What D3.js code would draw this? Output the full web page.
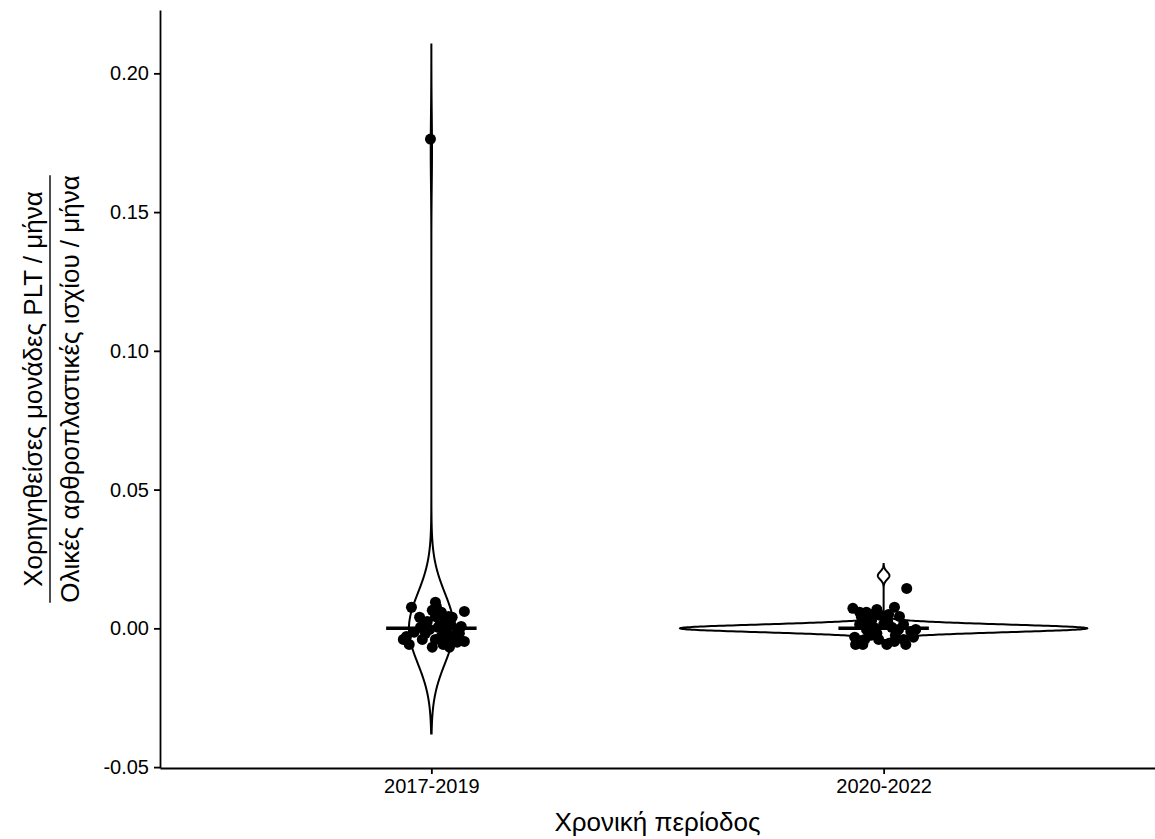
<!DOCTYPE html>
<html lang="el">
<head>
<meta charset="UTF-8">
<title>Violin</title>
<script src="https://d3js.org/d3.v7.min.js"></script>
<style>
  body { margin: 0; background: #fff; }
  svg text { font-family: Arial, "Liberation Sans", Helvetica, sans-serif; fill: #000; }
  .tick text { font-size: 20px; }
  .axis-title { font-size: 26px; }
</style>
</head>
<body>
<svg width="1155" height="839"></svg>
<script>
const groups = ["2017-2019", "2020-2022"];

// monthly ratio per group (most months are zero)
const values1 = [0, 0, 0, 0, 0, 0, 0, 0, 0, 0, 0, 0, 0, 0, 0, 0, 0, 0,
                 0, 0, 0, 0, 0, 0, 0, 0, 0, 0, 0, 0, 0, 0, 0, 0, 0, 0.1725];
const values2 = [0, 0, 0, 0, 0, 0, 0, 0, 0, 0, 0, 0, 0, 0, 0, 0, 0, 0,
                 0, 0, 0, 0, 0, 0, 0, 0, 0, 0, 0, 0, 0, 0, 0, 0, 0, 0.019];

// jittered points as drawn: offset from group centre (category units) and y
const dx1 = [-0.044, -0.026, 0.002, 0.011, 0.009, 0.022, 0.038, 0.073, -0.024, -0.062, -0.049, -0.020,
             0.002, 0.022, 0.033, 0.040, 0.057, 0.073, 0.044, 0.066, -0.004, 0.029, -0.009, 0.018,
             0.051, 0.062, 0.009, -0.055, -0.013, 0.035, 0.015, -0.038, 0.046, 0.009, -0.002, 0.026];
const y1 = [0.0076, 0.0040, 0.0065, 0.0079, 0.0043, 0.0058, 0.0043, 0.0061, 0.0004, -0.0040, -0.0058, -0.0040,
            -0.0068, -0.0029, -0.0011, -0.0068, -0.0050, -0.0047, 0.0011, 0.0007, -0.0004, 0.0018, 0.0025, 0.0032,
            -0.0025, -0.0018, -0.0040, -0.0029, -0.0018, -0.0040, 0.0004, -0.0014, 0.0040, 0.0094, 0.1763, -0.0058];
const dx2 = [-0.068, -0.053, -0.038, -0.015, -0.007, 0.024, 0.035, -0.026, 0.009, -0.062, -0.046, 0.007,
             0.024, 0.049, 0.066, 0.060, -0.029, -0.022, -0.064, -0.038, -0.011, 0.033, 0.018, 0.044,
             -0.053, -0.033, 0.000, 0.026, -0.015, -0.042, 0.044, 0.011, -0.024, 0.051, -0.049, 0.071];
const y2 = [0.0072, 0.0058, 0.0058, 0.0068, 0.0047, 0.0076, 0.0043, 0.0032, 0.0025, -0.0058, -0.0058, -0.0058,
            -0.0047, -0.0058, -0.0032, -0.0011, -0.0025, 0.0004, -0.0032, -0.0004, -0.0040, -0.0004, 0.0004, 0.0014,
            0.0014, 0.0025, 0.0014, -0.0025, -0.0018, -0.0040, -0.0040, 0.0050, 0.0050, 0.0144, 0.0040, -0.0004];

const yTicks = [-0.05, 0.00, 0.05, 0.10, 0.15, 0.20];

const svg = d3.select("svg");
const margin = { top: 10, right: 0, bottom: 71, left: 160 };
const W = 1155, H = 839;

// gaussian kde, bandwidth like R's bw.nrd0, extended 3 bw past the data
function bwNrd0(x) {
    const s = x.slice().sort(d3.ascending);
    const sd = d3.deviation(s);
    const iqr = d3.quantile(s, 0.75) - d3.quantile(s, 0.25);
    let lo = Math.min(sd, iqr / 1.34);
    if (!lo) lo = sd || Math.abs(s[0]) || 1;
    return 0.9 * lo * Math.pow(s.length, -0.2);
}
function kde(x) {
    const bw = bwNrd0(x);
    const lo = d3.min(x) - 3 * bw, hi = d3.max(x) + 3 * bw;
    const n = 512, out = [];
    for (let i = 0; i < n; i++) {
        const t = lo + (hi - lo) * i / (n - 1);
        const d = d3.mean(x, v => Math.exp(-0.5 * ((t - v) / bw) ** 2)) / (bw * Math.sqrt(2 * Math.PI));
        out.push({ y: t, d: d });
    }
    return out;
}

const dens = [kde(values1), kde(values2)];
const maxD = d3.max(dens, g => d3.max(g, p => p.d));

const yMin = d3.min(dens, g => g[0].y), yMax = d3.max(dens, g => g[g.length - 1].y);
const pad = (yMax - yMin) * 0.05;

const x = d3.scaleLinear().domain([0.4, 2.6]).range([margin.left, W - margin.right]);
const y = d3.scaleLinear().domain([yMin - pad, yMax + pad]).range([H - margin.bottom, margin.top]);

// violins
dens.forEach((g, i) => {
    const cx = i + 1;
    const area = d3.area()
        .y(p => y(p.y))
        .x0(p => x(cx - 0.45 * p.d / maxD))
        .x1(p => x(cx + 0.45 * p.d / maxD));
    svg.append("path")
        .attr("d", area(g))
        .attr("fill", "#fff")
        .attr("stroke", "#000")
        .attr("stroke-width", 2);
});

// jittered points
const pts = [d3.zip(dx1, y1), d3.zip(dx2, y2)];
pts.forEach((p, i) => {
    svg.append("g").selectAll("circle")
        .data(p)
        .join("circle")
        .attr("cx", d => x(i + 1 + d[0]))
        .attr("cy", d => y(d[1]))
        .attr("r", 5.5)
        .attr("fill", "#000");
});

// median bars
[values1, values2].forEach((v, i) => {
    const m = d3.median(v);
    svg.append("line")
        .attr("x1", x(i + 1 - 0.1)).attr("x2", x(i + 1 + 0.1))
        .attr("y1", y(m)).attr("y2", y(m))
        .attr("stroke", "#000")
        .attr("stroke-width", 3.5);
});

// axes
const xAxis = svg.append("g")
    .attr("transform", `translate(0,${H - margin.bottom})`)
    .call(d3.axisBottom(x).tickValues([1, 2]).tickFormat(d => groups[d - 1]).tickSize(6).tickSizeOuter(0).tickPadding(5));
const yAxis = svg.append("g")
    .attr("transform", `translate(${margin.left},0)`)
    .call(d3.axisLeft(y).tickValues(yTicks).tickFormat(d => d.toFixed(2)).tickSize(6).tickSizeOuter(0).tickPadding(5));
[xAxis, yAxis].forEach(a => {
    a.attr("font-family", null).attr("font-size", null);
    a.select(".domain").attr("stroke-width", 1.8);
    a.selectAll(".tick line").attr("stroke-width", 1.8);
});

svg.append("text")
    .attr("class", "axis-title")
    .attr("x", (margin.left + W - margin.right) / 2)
    .attr("y", 831)
    .attr("text-anchor", "middle")
    .text("Χρονική περίοδος");

// y title as a fraction
const cy = (margin.top + H - margin.bottom) / 2;
const yt = svg.append("g").attr("transform", `translate(50,${cy}) rotate(-90)`);
yt.append("text").attr("class", "axis-title").attr("text-anchor", "middle").attr("y", -8)
    .text("Χορηγηθείσες μονάδες PLT / μήνα");
const den = yt.append("text").attr("class", "axis-title").attr("text-anchor", "middle").attr("y", 29)
    .text("Ολικές αρθροπλαστικές ισχίου / μήνα");
const L = den.node().getComputedTextLength();
yt.append("line")
    .attr("x1", -L / 2).attr("x2", L / 2)
    .attr("y1", 0).attr("y2", 0)
    .attr("stroke", "#000").attr("stroke-width", 1.4);
</script>
</body>
</html>
